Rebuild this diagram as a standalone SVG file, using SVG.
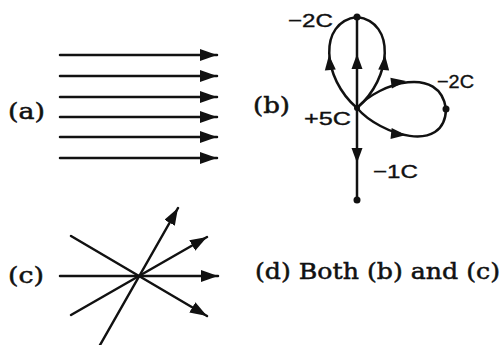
<svg xmlns="http://www.w3.org/2000/svg" width="503" height="345" viewBox="0 0 503 345">
<style>
.ln{stroke:#111;stroke-width:2.5;fill:none;stroke-linecap:round}
.ser{font-family:"DejaVu Serif","Liberation Serif",serif;font-size:22px;fill:#111;stroke:#111;stroke-width:0.5}
.san{font-family:"Liberation Sans",Arial,sans-serif;font-size:19px;fill:#111;stroke:#111;stroke-width:0.35}
.ah{fill:#111}
.dot{fill:#111}
</style>
<defs>
<marker id="arr" markerUnits="userSpaceOnUse" markerWidth="18" markerHeight="14" refX="17" refY="6" orient="auto">
<path d="M0,0 L17,6 L0,12 Z" fill="#111"/>
</marker>
<path id="head" d="M0,0 L-15,-5.5 L-15,5.5 Z"/>
</defs>
<rect width="503" height="345" fill="#fff"/>

<g id="label-a"><text class="ser" x="8" y="119" textLength="37" lengthAdjust="spacingAndGlyphs">(a)</text></g>
<g id="label-b"><text class="ser" x="253" y="113" textLength="37" lengthAdjust="spacingAndGlyphs">(b)</text></g>
<g id="label-c"><text class="ser" x="8" y="283" textLength="36" lengthAdjust="spacingAndGlyphs">(c)</text></g>
<g id="label-d"><text class="ser" x="255" y="279" textLength="245" lengthAdjust="spacingAndGlyphs">(d) Both (b) and (c)</text></g>

<g id="connectors">
<g id="field-a">
<line class="ln" x1="60" y1="55" x2="217" y2="55" marker-end="url(#arr)"/>
<line class="ln" x1="60" y1="76" x2="217" y2="76" marker-end="url(#arr)"/>
<line class="ln" x1="60" y1="97" x2="217" y2="97" marker-end="url(#arr)"/>
<line class="ln" x1="60" y1="117" x2="217" y2="117" marker-end="url(#arr)"/>
<line class="ln" x1="60" y1="137" x2="217" y2="137" marker-end="url(#arr)"/>
<line class="ln" x1="60" y1="158" x2="217" y2="158" marker-end="url(#arr)"/>
</g>
<g id="field-b">
<line class="ln" x1="357" y1="17" x2="357" y2="200"/>
<path class="ln" d="M357,108 C322,78 318,22 357,17"/>
<path class="ln" d="M357,108 C392,78 396,22 357,17"/>
<path class="ln" d="M357,108 C380,82 440,65 446,109"/>
<path class="ln" d="M357,108 C380,135 445,155 446,109"/>
<use href="#head" class="ah" transform="translate(357,54) rotate(-90)"/>
<use href="#head" class="ah" transform="translate(329,55) rotate(-95)"/>
<use href="#head" class="ah" transform="translate(385,55) rotate(-85)"/>
<use href="#head" class="ah" transform="translate(406,81) rotate(-8)"/>
<use href="#head" class="ah" transform="translate(406,135) rotate(6)"/>
<use href="#head" class="ah" transform="translate(357,163) rotate(90)"/>
</g>
<g id="field-c">
<line class="ln" x1="60" y1="276" x2="218" y2="276" marker-end="url(#arr)"/>
<line class="ln" x1="71" y1="236" x2="207" y2="316" marker-end="url(#arr)"/>
<line class="ln" x1="71" y1="315" x2="207" y2="237" marker-end="url(#arr)"/>
<line class="ln" x1="100" y1="345" x2="178" y2="208" marker-end="url(#arr)"/>
</g>
</g>

<g id="charge-top"><circle class="dot" cx="357" cy="17" r="3.5"/><text class="san" x="288" y="27" textLength="45" lengthAdjust="spacingAndGlyphs">−2C</text></g>
<g id="charge-right"><circle class="dot" cx="446" cy="109" r="3.5"/><text class="san" x="437" y="88" textLength="37" lengthAdjust="spacingAndGlyphs">−2C</text></g>
<g id="charge-center"><circle class="dot" cx="357" cy="108" r="3"/><text class="san" x="304" y="125" textLength="47" lengthAdjust="spacingAndGlyphs">+5C</text></g>
<g id="charge-bottom"><circle class="dot" cx="357" cy="200" r="3.5"/><text class="san" x="373" y="178" textLength="45" lengthAdjust="spacingAndGlyphs">−1C</text></g>
</svg>
